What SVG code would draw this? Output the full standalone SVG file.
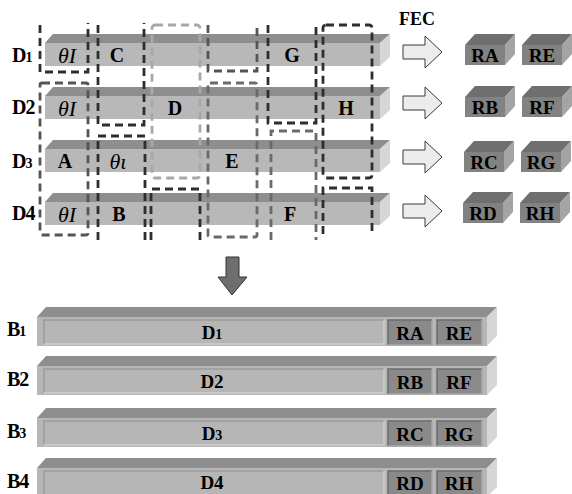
<svg xmlns="http://www.w3.org/2000/svg" width="572" height="494" viewBox="0 0 572 494">
<style>
.bg{fill:#fff}
.ft{fill:#b8b8b8}
.tp{fill:#8e8e8e}
.sd{fill:#d6d6d6}
.fb{fill:#828282}
.ftp{fill:#6f6f6f}
.fsd{fill:#a4a4a4}
.t{font-family:"Liberation Serif","Times New Roman",serif;font-weight:bold;font-size:20px;fill:#000;text-anchor:middle}
.f{font-size:19px}
.th{font-family:"Liberation Serif","Times New Roman",serif;font-style:italic;font-size:22px;fill:#000;text-anchor:middle}
.lab{font-family:"Liberation Serif","Times New Roman",serif;font-weight:bold;font-size:20px;fill:#000;letter-spacing:-1px}
.sm{font-size:14px}
.dk{fill:none;stroke:#2e2e2e;stroke-width:2.8;stroke-dasharray:8 5}
.md{fill:none;stroke:#555;stroke-width:2.8;stroke-dasharray:8 5}
.mg{fill:none;stroke:#6a6a6a;stroke-width:2.8;stroke-dasharray:8 5}
.lt{fill:none;stroke:#a8a8a8;stroke-width:2.8;stroke-dasharray:8 5}
.ra{fill:#ececec;stroke:#3a3a3a;stroke-width:1}
.da{fill:#6e6e6e;stroke:#333;stroke-width:1}
.pn{fill:#b6b6b6;stroke:none}
.pnl{fill:none;stroke:#9c9c9c;stroke-width:1.5}
.pnr{fill:none;stroke:#cecece;stroke-width:1.5}
.rp{fill:#8a8a8a}
.rpl{fill:none;stroke:#6c6c6c;stroke-width:1.5}
.rpr{fill:none;stroke:#a9a9a9;stroke-width:1.5}
</style>
<rect class="bg" x="0" y="0" width="572" height="494"/>

<!-- Top data rows -->
<g id="row-D1">
  <polygon class="tp" points="45,43 53,34 390,34 380,43"/>
  <rect class="ft" x="45" y="43" width="335" height="23"/>
  <polygon class="sd" points="380,43 390,34 390,57 380,66"/>
  <text class="lab" x="12" y="62">D<tspan class="sm">1</tspan></text>
  <text class="th" x="67" y="63">θI</text>
  <text class="t" x="117" y="62">C</text>
  <text class="t" x="292" y="62">G</text>
</g>
<g id="row-D2">
  <polygon class="tp" points="45,96 53,87 390,87 380,96"/>
  <rect class="ft" x="45" y="96" width="335" height="23"/>
  <polygon class="sd" points="380,96 390,87 390,110 380,119"/>
  <text class="lab" x="12" y="114">D2</text>
  <text class="th" x="67" y="116">θI</text>
  <text class="t" x="175" y="115">D</text>
  <text class="t" x="346" y="115">H</text>
</g>
<g id="row-D3">
  <polygon class="tp" points="45,149 53,140 390,140 380,149"/>
  <rect class="ft" x="45" y="149" width="335" height="23"/>
  <polygon class="sd" points="380,149 390,140 390,163 380,172"/>
  <text class="lab" x="12" y="168">D<tspan class="sm">3</tspan></text>
  <text class="t" x="65" y="168">A</text>
  <text class="th" x="118" y="169">θι</text>
  <text class="t" x="232" y="168">E</text>
</g>
<g id="row-D4">
  <polygon class="tp" points="45,202 53,193 390,193 380,202"/>
  <rect class="ft" x="45" y="202" width="335" height="23"/>
  <polygon class="sd" points="380,202 390,193 390,216 380,225"/>
  <text class="lab" x="12" y="220">D4</text>
  <text class="th" x="67" y="222">θI</text>
  <text class="t" x="119" y="221">B</text>
  <text class="t" x="290" y="221">F</text>
</g>

<!-- Dashed groupings -->
<g id="groups">
  <path class="dk" d="M40,25 V72 H88 V23"/>
  <rect class="md" x="40" y="83" width="48" height="152" rx="2"/>
  <path class="dk" d="M98,25 V125 H144 V23"/>
  <path class="dk" d="M98,240 V136 H145 V240"/>
  <rect class="lt" x="152" y="25" width="48" height="153" rx="3"/>
  <path class="dk" d="M151,240 V189 H200 V240"/>
  <path class="md" d="M208,25 V71 H257 V23"/>
  <rect class="mg" x="208" y="83" width="49" height="154" rx="2"/>
  <path class="dk" d="M268,25 V123 H316 V23"/>
  <path class="mg" d="M271,240 V131 H316 V240"/>
  <rect class="dk" x="323" y="25" width="49" height="153" rx="3"/>
  <path class="dk" d="M323,234 V188 H372 V232"/>
</g>

<text class="t" x="417" y="25" style="font-size:18px">FEC</text>

<!-- FEC boxes -->
<g id="fec-RA">
  <polygon class="ftp" points="465,45 475,34 515,34 505,45"/>
  <rect class="fb" x="465" y="45" width="40" height="20"/>
  <polygon class="fsd" points="505,45 515,34 515,54 505,65"/>
  <text class="t f" x="485" y="62">RA</text>
</g>
<g id="fec-RE">
  <polygon class="ftp" points="522,45 532,34 572,34 562,45"/>
  <rect class="fb" x="522" y="45" width="40" height="20"/>
  <polygon class="fsd" points="562,45 572,34 572,54 562,65"/>
  <text class="t f" x="542" y="62">RE</text>
</g>
<g id="fec-RB">
  <polygon class="ftp" points="465,97 475,86 515,86 505,97"/>
  <rect class="fb" x="465" y="97" width="40" height="20"/>
  <polygon class="fsd" points="505,97 515,86 515,106 505,117"/>
  <text class="t f" x="485" y="114">RB</text>
</g>
<g id="fec-RF">
  <polygon class="ftp" points="522,97 532,86 572,86 562,97"/>
  <rect class="fb" x="522" y="97" width="40" height="20"/>
  <polygon class="fsd" points="562,97 572,86 572,106 562,117"/>
  <text class="t f" x="542" y="114">RF</text>
</g>
<g id="fec-RC">
  <polygon class="ftp" points="464,152 474,141 514,141 504,152"/>
  <rect class="fb" x="464" y="152" width="40" height="20"/>
  <polygon class="fsd" points="504,152 514,141 514,161 504,172"/>
  <text class="t f" x="484" y="169">RC</text>
</g>
<g id="fec-RG">
  <polygon class="ftp" points="521,152 531,141 571,141 561,152"/>
  <rect class="fb" x="521" y="152" width="40" height="20"/>
  <polygon class="fsd" points="561,152 571,141 571,161 561,172"/>
  <text class="t f" x="541" y="169">RG</text>
</g>
<g id="fec-RD">
  <polygon class="ftp" points="463,203 473,192 513,192 503,203"/>
  <rect class="fb" x="463" y="203" width="40" height="20"/>
  <polygon class="fsd" points="503,203 513,192 513,212 503,223"/>
  <text class="t f" x="483" y="220">RD</text>
</g>
<g id="fec-RH">
  <polygon class="ftp" points="520,203 530,192 570,192 560,203"/>
  <rect class="fb" x="520" y="203" width="40" height="20"/>
  <polygon class="fsd" points="560,203 570,192 570,212 560,223"/>
  <text class="t f" x="540" y="220">RH</text>
</g>

<!-- Connectors: block arrows -->
<g id="connectors">
  <polygon class="ra" points="403,45 425,45 425,36 442,52 425,68 425,59 403,59"/>
  <polygon class="ra" points="403,96 425,96 425,87 442,103 425,119 425,110 403,110"/>
  <polygon class="ra" points="403,150 425,150 425,141 442,157 425,173 425,164 403,164"/>
  <polygon class="ra" points="403,204 425,204 425,195 442,211 425,227 425,218 403,218"/>
  <polygon class="da" points="226,257 239,257 239,277 247,277 232,295 218,277 226,277"/>
</g>

<!-- Bottom combined rows -->
<g id="row-B1">
  <polygon class="tp" points="37,317 46,307 497,307 487,317"/>
  <rect class="pn" x="37" y="317" width="450" height="29"/>
  <polygon class="sd" points="487,317 497,307 497,336 487,346"/>
  <path class="pnl" d="M44,344 V320 H384"/>
  <path class="pnr" d="M384,320 V344 H44"/>
  <rect class="rp" x="388" y="320" width="44" height="25"/>
  <path class="rpl" d="M388,345 V320 H432"/>
  <path class="rpr" d="M432,320 V345 H388"/>
  <rect class="rp" x="437" y="320" width="45" height="25"/>
  <path class="rpl" d="M437,345 V320 H482"/>
  <path class="rpr" d="M482,320 V345 H437"/>
  <text class="lab" x="7" y="336">B<tspan class="sm">1</tspan></text>
  <text class="t f" x="212" y="339">D<tspan class="sm">1</tspan></text>
  <text class="t f" x="410" y="340">RA</text>
  <text class="t f" x="459" y="340">RE</text>
</g>
<g id="row-B2">
  <polygon class="tp" points="37,366 46,356 497,356 487,366"/>
  <rect class="pn" x="37" y="366" width="450" height="29"/>
  <polygon class="sd" points="487,366 497,356 497,385 487,395"/>
  <path class="pnl" d="M44,393 V369 H384"/>
  <path class="pnr" d="M384,369 V393 H44"/>
  <rect class="rp" x="388" y="369" width="44" height="25"/>
  <path class="rpl" d="M388,394 V369 H432"/>
  <path class="rpr" d="M432,369 V394 H388"/>
  <rect class="rp" x="437" y="369" width="45" height="25"/>
  <path class="rpl" d="M437,394 V369 H482"/>
  <path class="rpr" d="M482,369 V394 H437"/>
  <text class="lab" x="7" y="386">B2</text>
  <text class="t f" x="212" y="388">D2</text>
  <text class="t f" x="410" y="389">RB</text>
  <text class="t f" x="459" y="389">RF</text>
</g>
<g id="row-B3">
  <polygon class="tp" points="37,418 46,408 497,408 487,418"/>
  <rect class="pn" x="37" y="418" width="450" height="29"/>
  <polygon class="sd" points="487,418 497,408 497,437 487,447"/>
  <path class="pnl" d="M44,445 V421 H384"/>
  <path class="pnr" d="M384,421 V445 H44"/>
  <rect class="rp" x="388" y="421" width="44" height="25"/>
  <path class="rpl" d="M388,446 V421 H432"/>
  <path class="rpr" d="M432,421 V446 H388"/>
  <rect class="rp" x="437" y="421" width="45" height="25"/>
  <path class="rpl" d="M437,446 V421 H482"/>
  <path class="rpr" d="M482,421 V446 H437"/>
  <text class="lab" x="7" y="438">B<tspan class="sm">3</tspan></text>
  <text class="t f" x="212" y="440">D<tspan class="sm">3</tspan></text>
  <text class="t f" x="410" y="441">RC</text>
  <text class="t f" x="459" y="441">RG</text>
</g>
<g id="row-B4">
  <polygon class="tp" points="37,468 46,458 497,458 487,468"/>
  <rect class="pn" x="37" y="468" width="450" height="29"/>
  <polygon class="sd" points="487,468 497,458 497,487 487,497"/>
  <path class="pnl" d="M44,495 V471 H384"/>
  <path class="pnr" d="M384,471 V495 H44"/>
  <rect class="rp" x="388" y="471" width="44" height="25"/>
  <path class="rpl" d="M388,496 V471 H432"/>
  <path class="rpr" d="M432,471 V496 H388"/>
  <rect class="rp" x="437" y="471" width="45" height="25"/>
  <path class="rpl" d="M437,496 V471 H482"/>
  <path class="rpr" d="M482,471 V496 H437"/>
  <text class="lab" x="7" y="488">B4</text>
  <text class="t f" x="212" y="489">D4</text>
  <text class="t f" x="410" y="490">RD</text>
  <text class="t f" x="459" y="490">RH</text>
</g>
</svg>
